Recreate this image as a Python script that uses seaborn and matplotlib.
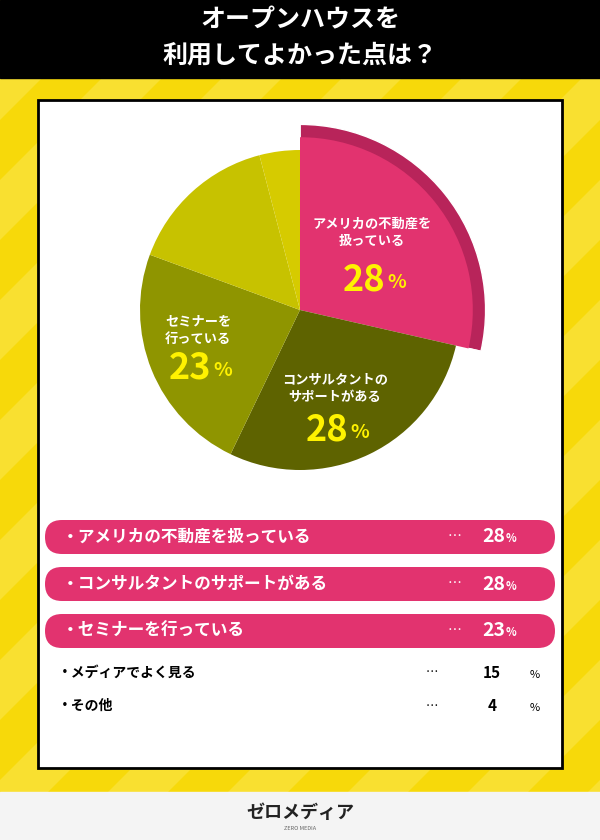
"""
Recreate the open-house survey pie chart with a ranked list below.
"""

import matplotlib.pyplot as plt
from matplotlib.patches import FancyBboxPatch, Rectangle, Polygon
import seaborn as sns

TITLE_LINES = ["オープンハウスを", "利用してよかった点は？"]
CATEGORIES = [
    "アメリカの不動産を扱っている",
    "コンサルタントのサポートがある",
    "セミナーを行っている",
    "メディアでよく見る",
    "その他",
]
SLICE_LABELS = ["アメリカの不動産を\n扱っている", "コンサルタントの\nサポートがある", "セミナーを\n行っている", "", ""]
VALUES = [28, 28, 23, 15, 4]

FONT = "Noto Sans CJK JP"
PINK = "#E2336F"
RIM = "#B8245A"
SLICE_COLORS = [PINK, "#5E6300", "#8F9500", "#C7C200", "#D6CB00"]
YELLOW = "#F7D90A"

PIE_X, PIE_Y, PIE_R = 300, 310, 160


def to_pixels(ax):
    ax.set_xlim(0, 600)
    ax.set_ylim(840, 0)
    ax.axis("off")


def main() -> None:
    sns.set_theme(style="white", font=FONT)
    fig = plt.figure(figsize=(6, 8.4), dpi=100)

    bg = fig.add_axes([0, 0, 1, 1], zorder=0)
    to_pixels(bg)
    bg.add_patch(Rectangle((0, 0), 600, 840, color=YELLOW))
    for start in range(-900, 700, 120):
        bg.add_patch(Polygon([(start, 840), (start + 60, 840), (start + 900, 0), (start + 840, 0)],
                             color="#FBE64A", alpha=0.6, lw=0))
    bg.add_patch(Rectangle((0, 0), 600, 78, color="black"))
    bg.add_patch(Rectangle((0, 792), 600, 48, color="#F4F4F4"))
    bg.add_patch(Rectangle((38, 100), 524, 668, facecolor="white", edgecolor="black", lw=2))

    # pie: limits of +-1.2 mean the axes are 2.4 radii wide
    side = 2.4 * PIE_R
    pie_ax = fig.add_axes([(PIE_X - side / 2) / 600, (840 - PIE_Y - side / 2) / 840,
                           side / 600, side / 840], zorder=1)
    pie_ax.pie([VALUES[0], sum(VALUES) - VALUES[0]], colors=[RIM, "none"], radius=1.16,
               startangle=90, counterclock=False)
    wedges, _ = pie_ax.pie(VALUES, colors=SLICE_COLORS, radius=1.0, startangle=90,
                           counterclock=False, wedgeprops=dict(lw=0))
    wedges[0].set_radius(1.08)
    pie_ax.set_aspect("equal")
    pie_ax.set_xlim(-1.2, 1.2)
    pie_ax.set_ylim(-1.2, 1.2)

    top = fig.add_axes([0, 0, 1, 1], zorder=2)
    to_pixels(top)
    top.patch.set_alpha(0)
    for i, line in enumerate(TITLE_LINES):
        top.text(300, 20 + i * 36, line, color="white", fontsize=18, fontweight="bold",
                 ha="center", va="center", family=FONT)

    label_pos = [(372, 232, 280), (335, 388, 430), (198, 330, 368)]
    for (x, y, py), label, value in zip(label_pos, SLICE_LABELS, VALUES):
        top.text(x, y, label, color="white", fontsize=9.5, fontweight="bold",
                 ha="center", va="center", linespacing=1.3, family=FONT)
        top.text(x - 8, py, f"{value}", color="#FFF200", fontsize=26, fontweight="bold",
                 ha="center", va="center", family=FONT)
        top.text(x + 25, py + 3, "%", color="#FFF200", fontsize=14, fontweight="bold",
                 ha="center", va="center", family=FONT)

    # ranked list
    for i, (name, value) in enumerate(zip(CATEGORIES, VALUES)):
        if i < 3:
            y = 537 + i * 47
            top.add_patch(FancyBboxPatch((45, y - 17), 510, 34, boxstyle="round,pad=0,rounding_size=17",
                                         facecolor=PINK, lw=0))
            top.text(62, y, "・" + name, color="white", fontsize=12, fontweight="bold",
                     va="center", family=FONT)
            top.text(455, y, "…", color="white", fontsize=10, va="center", ha="center", family=FONT)
            top.text(505, y, f"{value}", color="white", fontsize=14, fontweight="bold",
                     va="center", ha="right", family=FONT)
            top.text(506, y + 2, "%", color="white", fontsize=8, fontweight="bold", va="center", family=FONT)
        else:
            y = 673 + (i - 3) * 33
            top.text(58, y, "・" + name, color="black", fontsize=10, fontweight="bold",
                     va="center", family=FONT)
            top.text(432, y, "…", color="black", fontsize=9, va="center", ha="center", family=FONT)
            top.text(492, y, f"{value}", color="black", fontsize=11, fontweight="bold",
                     va="center", ha="center", family=FONT)
            top.text(535, y + 2, "%", color="black", fontsize=8, va="center", ha="center", family=FONT)

    top.text(300, 813, "ゼロメディア", color="#222222", fontsize=13, fontweight="bold",
             ha="center", va="center", family=FONT)
    top.text(300, 829, "ZERO MEDIA", color="#666666", fontsize=4, ha="center", va="center")

    fig.savefig("out.png", dpi=100)


if __name__ == "__main__":
    main()
